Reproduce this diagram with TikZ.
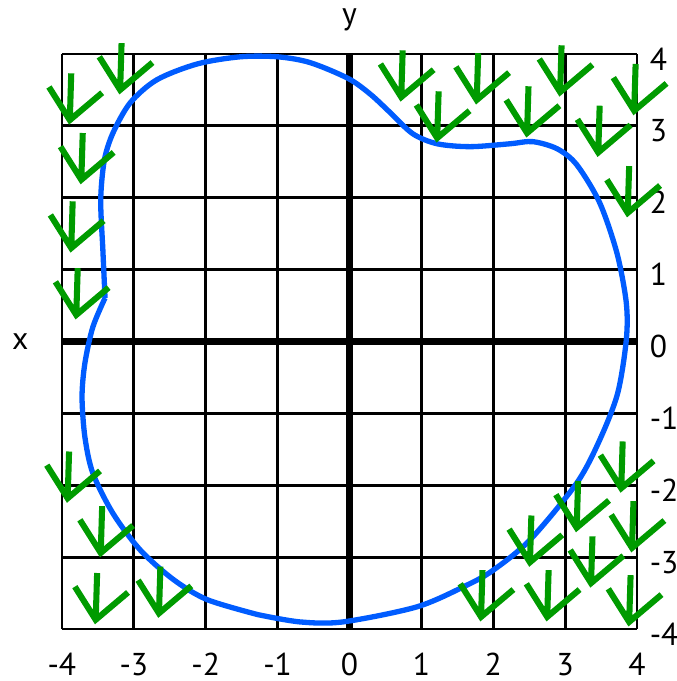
\documentclass[tikz,border=0pt]{standalone}
\usepackage{fontspec}
\setmainfont{PT Sans}
\usetikzlibrary{positioning}
\definecolor{curveblue}{RGB}{0,92,255}
\definecolor{leafgreen}{RGB}{0,155,0}

\begin{document}
\begin{tikzpicture}[
    gridline/.style={line width=1.1pt},
    axisline/.style={line width=3pt},
    contour/.style={line width=2.1pt, curveblue},
    lbl/.style={font=\fontsize{12.5}{14}\selectfont, inner sep=0pt},
    vmark/.pic={\draw[line width=2.4pt, leafgreen] (-0.29,0.46) -- (0,0) -- (0.45,0.38) (0.02,0.65) -- (0,0);}
]
\useasboundingbox (-4.861,-4.722) rectangle (4.555,4.750);

\draw[gridline] (-4,-4) grid (4,4);
\draw[axisline] (-4,0) -- (4,0);
\draw[axisline] (0,-4) -- (0,4);

\node[lbl] (xlab) at (-4.58,0) {x};
\node[lbl] (ylab) at (0,4.47) {y};
\foreach \v in {-4,...,4} {
    \node[lbl] (bx\v) at (\v,-4.49) {\v};
    \node[lbl, anchor=west] (ry\v) at (4.17,\v-0.07) {\v};
}

\draw[contour] plot[smooth] coordinates {
    (-3.40,0.605) (-3.43,1.27) (-3.46,1.97) (-3.41,2.52) (-3.29,2.90)
    (-3.05,3.32) (-2.68,3.64) (-2.12,3.86) (-1.52,3.96) (-1.0,3.96)
    (-0.55,3.88) (-0.02,3.66) (0.29,3.44) (0.56,3.19) (0.88,2.89)
    (1.22,2.75) (1.68,2.71) (2.23,2.75) (2.55,2.78) (2.89,2.68)
    (3.16,2.46) (3.48,1.93) (3.72,1.23) (3.85,0.54) (3.85,0.02)
    (3.73,-0.72) (3.48,-1.37) (3.16,-1.97) (2.51,-2.76)
    (2.00,-3.18) (1.63,-3.39) (0.94,-3.69) (-0.09,-3.90) (-0.69,-3.90)
    (-1.27,-3.80)}
    plot[smooth] coordinates {
    (-1.27,-3.80) (-1.98,-3.59) (-2.45,-3.31) (-2.91,-2.90) (-3.29,-2.39)
    (-3.57,-1.83) (-3.68,-1.33) (-3.72,-0.77) (-3.68,-0.30) (-3.57,0.20)
    (-3.40,0.605)};

\foreach \p in {(-3.89,3.08),(-3.19,3.50),(-3.73,2.25),(-3.87,1.30),(-3.80,0.37),
    (0.72,3.40),(1.22,2.83),(1.77,3.36),(2.93,3.47),(2.47,2.90),(3.96,3.21),(3.46,2.63),(3.87,1.79),
    (-3.92,-2.18),(-3.46,-2.94),(-3.53,-3.87),(-2.65,-3.78),
    (3.78,-2.04),(3.16,-2.59),(3.93,-2.87),(2.51,-3.07),(3.36,-3.36),(1.83,-3.83),(2.75,-3.83),(3.89,-3.90)}
    \pic at \p {vmark};
\end{tikzpicture}
\end{document}
